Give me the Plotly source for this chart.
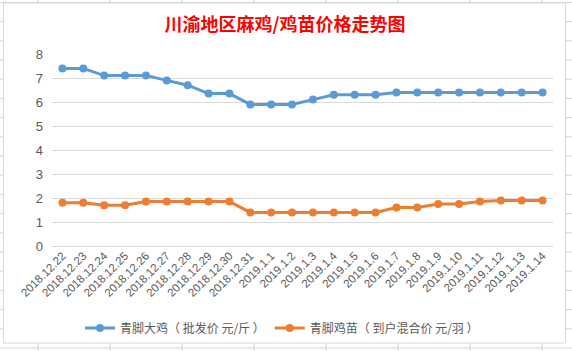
import plotly.graph_objects as go

dates = ["2018.12.22", "2018.12.23", "2018.12.24", "2018.12.25", "2018.12.26", "2018.12.27",
         "2018.12.28", "2018.12.29", "2018.12.30", "2018.12.31", "2019.1.1", "2019.1.2",
         "2019.1.3", "2019.1.4", "2019.1.5", "2019.1.6", "2019.1.7", "2019.1.8", "2019.1.9",
         "2019.1.10", "2019.1.11", "2019.1.12", "2019.1.13", "2019.1.14"]
big_chicken = [7.4, 7.4, 7.1, 7.1, 7.1, 6.9, 6.7, 6.35, 6.35, 5.9, 5.9, 5.9,
               6.1, 6.3, 6.3, 6.3, 6.4, 6.4, 6.4, 6.4, 6.4, 6.4, 6.4, 6.4]
chick = [1.8, 1.8, 1.7, 1.7, 1.85, 1.85, 1.85, 1.85, 1.85, 1.4, 1.4, 1.4,
         1.4, 1.4, 1.4, 1.4, 1.6, 1.6, 1.75, 1.75, 1.85, 1.9, 1.9, 1.9]
name1 = "青脚大鸡（ 批发价 元/斤 ）"
name2 = "青脚鸡苗（ 到户混合价 元/羽 ）"
title = "川渝地区麻鸡/鸡苗价格走势图"

W, H = 572, 351
L, R, T, B = 52, 19, 54, 105
PW, PH = W - L - R, H - T - B

def xp(px):
    return (px - L) / PW

def yp(py):
    return (H - B - py) / PH

fig = go.Figure()
fig.add_trace(go.Scatter(x=dates, y=big_chicken, name=name1, mode="lines+markers",
                         line=dict(color="#5B9BD5", width=3), marker=dict(size=8, color="#5B9BD5")))
fig.add_trace(go.Scatter(x=dates, y=chick, name=name2, mode="lines+markers",
                         line=dict(color="#ED7D31", width=3), marker=dict(size=8, color="#ED7D31")))

shapes = []
grid = "#D4D4D4"
# spreadsheet row lines
k = 0
while 2.4 + 19.2 * k < H:
    y = 2.4 + 19.2 * k
    shapes.append(dict(type="line", xref="paper", yref="paper", x0=xp(0), x1=xp(W),
                       y0=yp(y), y1=yp(y), line=dict(color=grid, width=1), layer="below"))
    k += 1
# spreadsheet column lines
for c in range(-1, 9):
    x = 38 + 72 * c
    shapes.append(dict(type="line", xref="paper", yref="paper", x0=xp(x), x1=xp(x),
                       y0=yp(0), y1=yp(H), line=dict(color=grid, width=1), layer="below"))
# chart area
shapes.append(dict(type="rect", xref="paper", yref="paper", x0=xp(3.5), x1=xp(565.5),
                   y0=yp(343), y1=yp(3), fillcolor="white", line=dict(color="#D9D9D9", width=1),
                   layer="below"))

fig.update_layout(
    width=W, height=H,
    margin=dict(l=L, r=R, t=T, b=B, autoexpand=False),
    paper_bgcolor="white", plot_bgcolor="rgba(0,0,0,0)",
    title=dict(text="<b>" + title + "</b>", x=xp(285), xref="paper", xanchor="center",
               y=1 - 25 / H, yanchor="middle",
               font=dict(family="Noto Sans CJK SC", size=18, color="#FF0000")),
    showlegend=True,
    legend=dict(orientation="h", x=xp(282), xanchor="center", y=yp(328), yanchor="middle",
                font=dict(family="Noto Sans CJK SC", size=12, color="#595959"),
                bgcolor="rgba(0,0,0,0)", itemwidth=30),
    shapes=shapes,
    font=dict(family="Liberation Sans", color="#595959"),
)
fig.update_xaxes(type="category", range=[-0.5, len(dates) - 0.5], tickangle=-45,
                 showgrid=False, showline=False, automargin=False,
                 ticks="", tickfont=dict(family="Liberation Sans", size=11.5, color="#595959"))
fig.update_yaxes(range=[0, 8], dtick=1, showgrid=True, gridcolor="#D9D9D9", gridwidth=1,
                 zeroline=True, zerolinecolor="#D9D9D9", zerolinewidth=1, showline=False,
                 ticks="", ticklabelstandoff=8, automargin=False,
                 tickfont=dict(family="Liberation Sans", size=13, color="#595959"))

fig.write_html("out.html")
